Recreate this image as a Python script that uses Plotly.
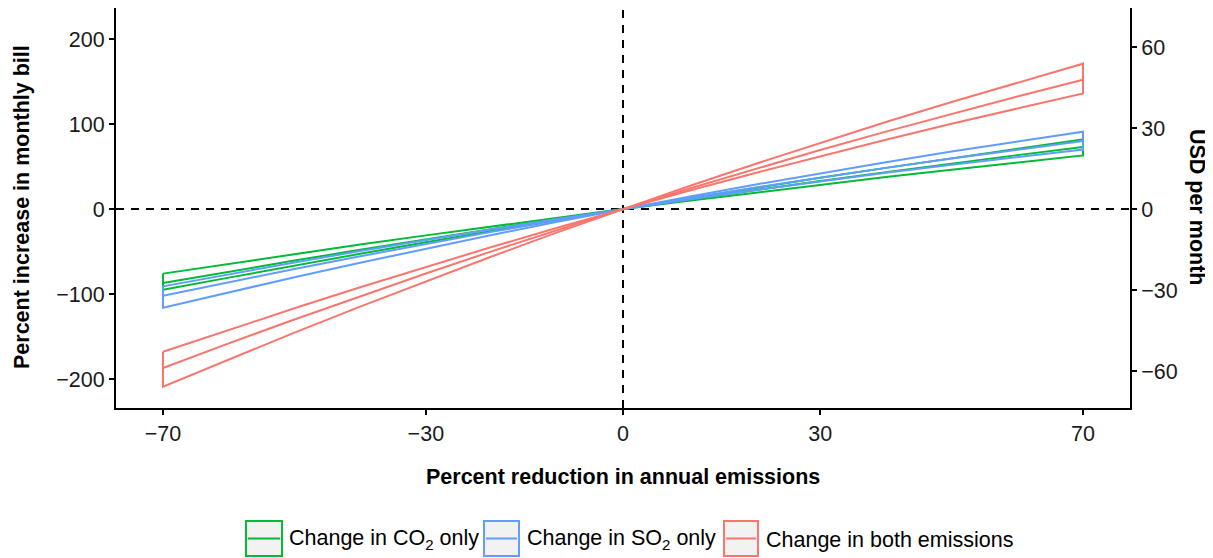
import plotly.graph_objects as go

# ---- data ----
x_vals = [-70, -60, -50, -40, -30, -20, -10, 0, 10, 20, 30, 40, 50, 60, 70]

co2_mid = [-87, -73.7, -60.7, -48, -35.6, -23.5, -11.6, 0, 11.3, 22.3, 33, 43.4, 53.6, 63.4, 73]
co2_low = [-76, -64.4, -52.9, -41.8, -31, -20.4, -10.1, 0, 9.8, 19.3, 28.6, 37.6, 46.3, 54.8, 63]
co2_high = [-95, -80.7, -66.5, -52.7, -39.1, -25.8, -12.8, 0, 12.5, 24.8, 36.7, 48.4, 59.9, 71.1, 82]

so2_mid = [-102, -86.1, -70.6, -55.6, -41, -26.9, -13.2, 0, 12.8, 25.1, 37, 48.4, 59.4, 69.9, 80]
so2_low = [-91, -76.7, -62.9, -49.4, -36.4, -23.9, -11.7, 0, 11.3, 22.1, 32.6, 42.6, 52.1, 61.3, 70]
so2_high = [-116, -97.9, -80.3, -63.2, -46.7, -30.6, -15.1, 0, 14.5, 28.6, 42.1, 55.1, 67.6, 79.5, 91]

both_mid = [-187, -158, -130, -102.5, -75.8, -49.8, -24.6, 0, 23.9, 47, 69.4, 91.1, 112.1, 132.4, 152]
both_low = [-168, -142.1, -116.8, -92, -68, -44.7, -22, 0, 21.4, 42.1, 62.2, 81.6, 100.4, 118.5, 136]
both_high = [-209, -176.9, -145.4, -114.8, -84.9, -55.9, -27.5, 0, 26.8, 52.7, 77.9, 102.4, 126, 148.9, 171]

series_names = ["Change in CO<sub>2</sub> only", "Change in SO<sub>2</sub> only", "Change in both emissions"]
series_colors = ["#00BA38", "#619CFF", "#F8766D"]

x_ticks = [-70, -30, 0, 30, 70]
y_left_ticks = [-200, -100, 0, 100, 200]
y_right_ticks = [-60, -30, 0, 30, 60]

x_title = "Percent reduction in annual emissions"
y_left_title = "Percent increase in monthly bill"
y_right_title = "USD per month"

# ---- figure geometry (page body has an 8px margin) ----
OFF = 8
W, H = 1213 - OFF, 558 - OFF
L, T = 116 - OFF, 8 - OFF
R = W - (1130 - OFF)
B = H - (408 - OFF)
PW, PH = W - L - R, H - T - B


def px_x(px):
    return (px - OFF - L) / PW


def px_y(py):
    return (H - B - (py - OFF)) / PH


fig = go.Figure()

groups = [
    (co2_mid, co2_low, co2_high),
    (so2_mid, so2_low, so2_high),
    (both_mid, both_low, both_high),
]

for (mid, low, high), name, col in zip(groups, series_names, series_colors):
    poly_x = x_vals + x_vals[::-1] + [x_vals[0]]
    poly_y = low + high[::-1] + [low[0]]
    fig.add_trace(go.Scatter(x=poly_x, y=poly_y, mode="lines",
                             line=dict(color=col, width=2),
                             showlegend=False, hoverinfo="skip"))
    fig.add_trace(go.Scatter(x=x_vals, y=mid, mode="lines",
                             line=dict(color=col, width=2),
                             name=name, showlegend=False))

# invisible trace to activate right axis
fig.add_trace(go.Scatter(x=[0], y=[0], yaxis="y2", mode="markers",
                         marker=dict(opacity=0), showlegend=False, hoverinfo="skip"))

FONT = "Liberation Sans, Arial, sans-serif"
FS = 21.5
tick_font = dict(family=FONT, size=FS, color="#1a1a1a")

axis_common = dict(ticks="outside", ticklen=5, tickwidth=1.5, tickcolor="black",
                   showline=True, linecolor="black", linewidth=2,
                   showgrid=False, zeroline=False, tickfont=tick_font)

fig.update_layout(
    width=W, height=H,
    margin=dict(l=L, r=R, t=T, b=B),
    plot_bgcolor="white", paper_bgcolor="white",
    showlegend=False,
    xaxis=dict(range=[-77.15, 77.15], tickvals=x_ticks, **axis_common),
    yaxis=dict(range=[-234.1, 236.5], tickvals=y_left_ticks, **axis_common),
    yaxis2=dict(range=[-73.7, 74.44], tickvals=y_right_ticks, overlaying="y",
                side="right", **axis_common),
)

# dashed reference lines
fig.add_shape(type="line", xref="paper", yref="y", x0=0, x1=1, y0=0, y1=0,
              line=dict(color="black", width=2, dash="8px,7px"), layer="below")
fig.add_shape(type="line", xref="x", yref="paper", x0=0, x1=0, y0=0, y1=1,
              line=dict(color="black", width=2, dash="8px,7px"), layer="below")

title_font = dict(family=FONT, size=FS, color="black")

fig.add_annotation(text="<b>" + x_title + "</b>", xref="paper", yref="paper",
                   x=px_x(623), y=px_y(477), showarrow=False, font=title_font,
                   xanchor="center", yanchor="middle")
fig.add_annotation(text="<b>" + y_left_title + "</b>", xref="paper", yref="paper",
                   x=px_x(22), y=px_y(207), showarrow=False, font=title_font,
                   textangle=-90, xanchor="center", yanchor="middle")
fig.add_annotation(text="<b>" + y_right_title + "</b>", xref="paper", yref="paper",
                   x=px_x(1197), y=px_y(207), showarrow=False, font=title_font,
                   textangle=90, xanchor="center", yanchor="middle")

# manual legend
legend_boxes = [(246, 282), (484, 519), (724, 758)]
legend_text_x = [287, 525, 764]
box_top, box_bot = 521, 556
for (bx0, bx1), tx, name, col in zip(legend_boxes, legend_text_x, series_names, series_colors):
    fig.add_shape(type="rect", xref="paper", yref="paper",
                  x0=px_x(bx0), x1=px_x(bx1), y0=px_y(box_bot), y1=px_y(box_top),
                  line=dict(color=col, width=2), fillcolor="#F2F2F2")
    fig.add_shape(type="line", xref="paper", yref="paper",
                  x0=px_x(bx0 + 2), x1=px_x(bx1 - 2),
                  y0=px_y((box_top + box_bot) / 2), y1=px_y((box_top + box_bot) / 2),
                  line=dict(color=col, width=2))
    fig.add_annotation(text=name, xref="paper", yref="paper",
                       x=px_x(tx), y=px_y((box_top + box_bot) / 2 + 1), showarrow=False,
                       xanchor="left", yanchor="middle",
                       font=dict(family=FONT, size=FS, color="black"))

fig.write_html("out.html")
